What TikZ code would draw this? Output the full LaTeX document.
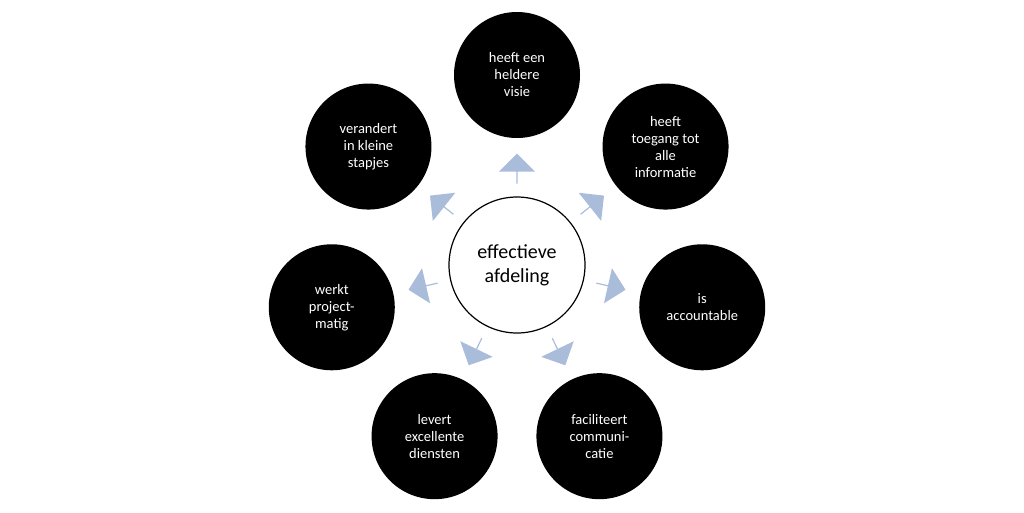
\documentclass[tikz,border=0pt]{standalone}
\usepackage{fontspec}
\setmainfont{Carlito}
\usetikzlibrary{shapes.arrows}
\begin{document}
\begin{tikzpicture}[x=1pt,y=-1pt,
  outer/.style={circle,fill=black,minimum size=126pt,inner sep=0pt,text=white,align=center,font=\fontsize{14.5}{17}\selectfont},
  center/.style={circle,draw=black,line width=1.2pt,fill=white,minimum size=136pt,align=center,font=\fontsize{20}{24}\selectfont},
  arr/.style={single arrow,fill=arrowblue,draw=none,minimum height=30pt,minimum width=36pt,single arrow head extend=6pt,inner sep=0pt,anchor=center}]
\definecolor{arrowblue}{HTML}{A9BCDA}
\useasboundingbox (0,0) rectangle (1024,512);
\fill[white] (0,0) rectangle (1024,512);
\node[center] (c) at (517,265) {effectieve\\afdeling};
\foreach \i/\t in {0/{heeft een\\heldere\\visie},1/{heeft\\toegang tot\\alle\\informatie},2/{is\\accountable},3/{faciliteert\\communi-\\catie},4/{levert\\excellente\\diensten},5/{werkt\\project-\\matig},6/{verandert\\in kleine\\stapjes}}{
  \pgfmathsetmacro{\a}{90-\i*360/7}
  \node[outer] (n\i) at ({517+190*cos(\a)},{265-190*sin(\a)}) {\t};
  \node[arr,rotate=\a] (a\i) at ({517+96*cos(\a)},{265-96*sin(\a)}) {};
}
\end{tikzpicture}
\end{document}
